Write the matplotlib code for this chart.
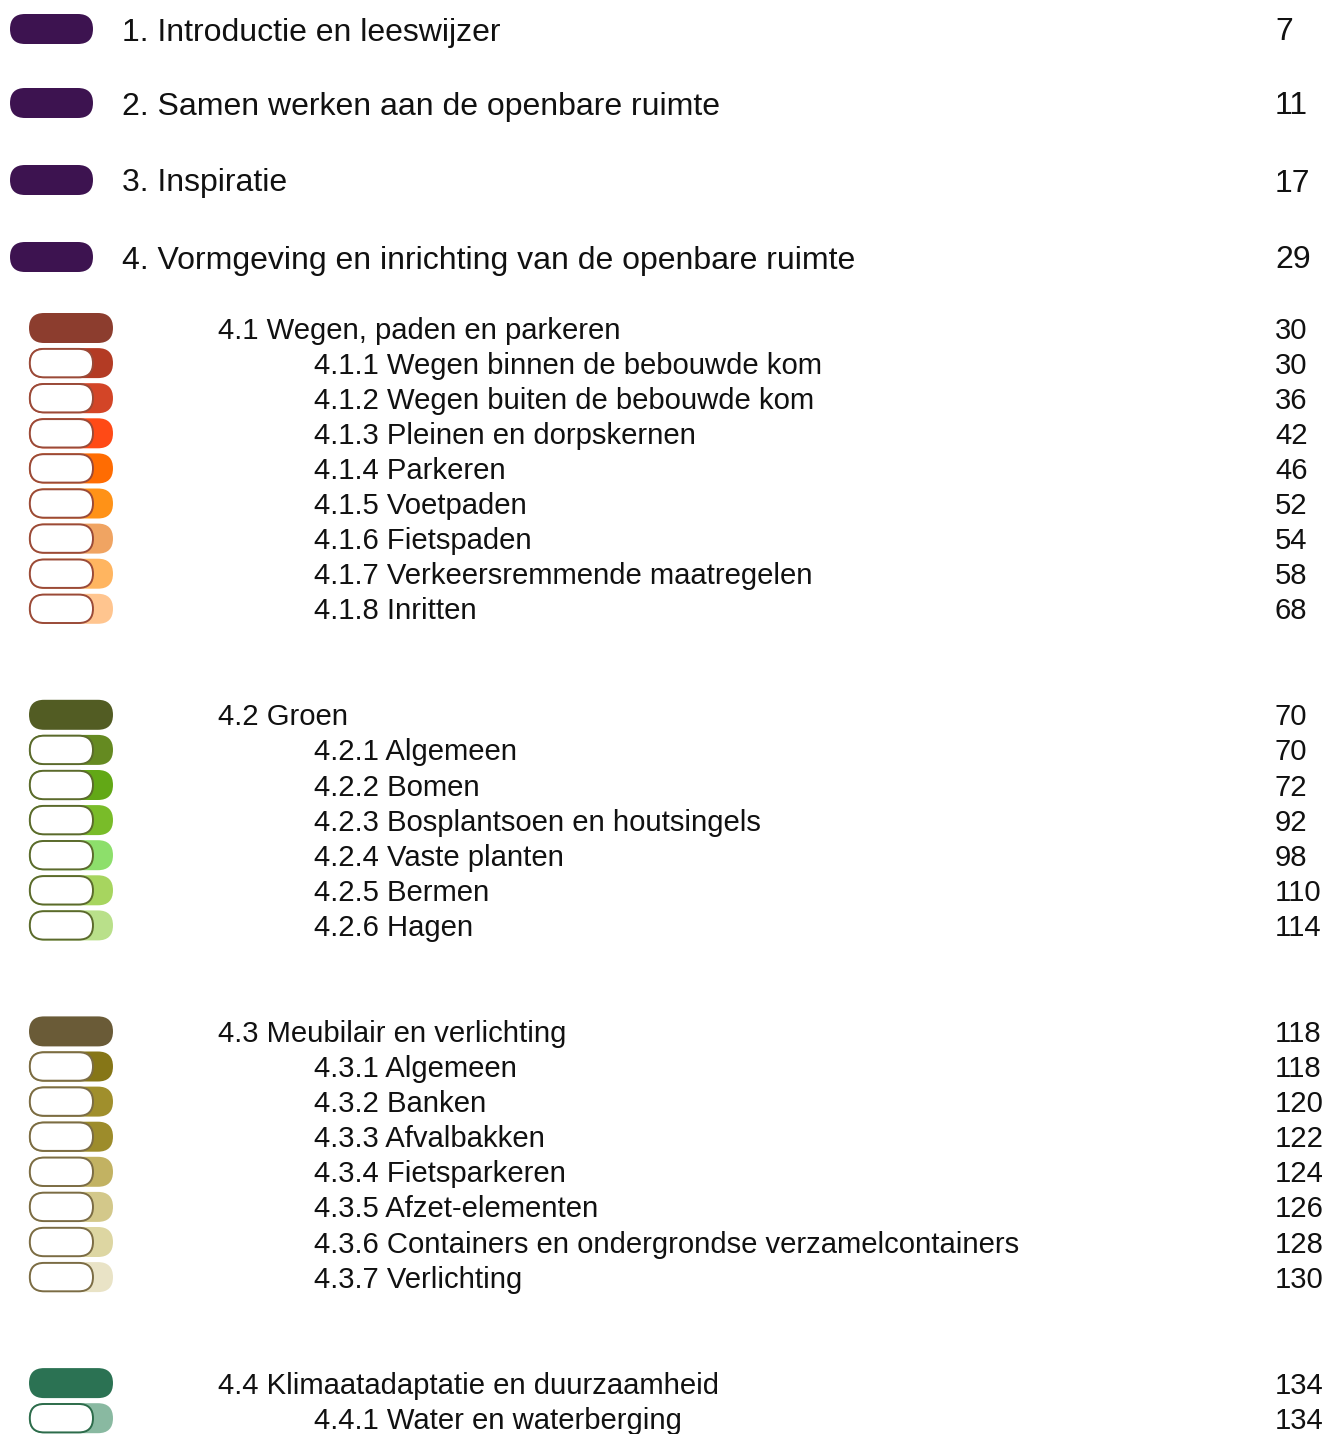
import matplotlib
matplotlib.use("Agg")
import matplotlib.pyplot as plt
from matplotlib.patches import FancyBboxPatch

# table of contents entries
chapters = ["1. Introductie en leeswijzer",
            "2. Samen werken aan de openbare ruimte",
            "3. Inspiratie",
            "4. Vormgeving en inrichting van de openbare ruimte"]
chapter_pages = [7, 11, 17, 29]
chapter_color = "#3d1350"

sections = ["4.1 Wegen, paden en parkeren",
            "4.2 Groen",
            "4.3 Meubilair en verlichting",
            "4.4 Klimaatadaptatie en duurzaamheid"]
section_pages = [30, 70, 118, 134]
section_colors = ["#8c3d2e", "#525c23", "#6a5b37", "#2b7253"]
outline_colors = ["#9a4a38", "#5b6a2c", "#7b6c44", "#2d6c4b"]

subsections = [
    ["4.1.1 Wegen binnen de bebouwde kom", "4.1.2 Wegen buiten de bebouwde kom",
     "4.1.3 Pleinen en dorpskernen", "4.1.4 Parkeren", "4.1.5 Voetpaden",
     "4.1.6 Fietspaden", "4.1.7 Verkeersremmende maatregelen", "4.1.8 Inritten"],
    ["4.2.1 Algemeen", "4.2.2 Bomen", "4.2.3 Bosplantsoen en houtsingels",
     "4.2.4 Vaste planten", "4.2.5 Bermen", "4.2.6 Hagen"],
    ["4.3.1 Algemeen", "4.3.2 Banken", "4.3.3 Afvalbakken", "4.3.4 Fietsparkeren",
     "4.3.5 Afzet-elementen", "4.3.6 Containers en ondergrondse verzamelcontainers",
     "4.3.7 Verlichting"],
    ["4.4.1 Water en waterberging"],
]
subsection_pages = [
    [30, 36, 42, 46, 52, 54, 58, 68],
    [70, 72, 92, 98, 110, 114],
    [118, 120, 122, 124, 126, 128, 130],
    [134],
]
subsection_colors = [
    ["#b33b24", "#d34527", "#ff4a16", "#ff6c02", "#ff9217", "#f0a462", "#ffb560", "#ffc58f"],
    ["#658a21", "#62a816", "#79bc29", "#8ddf6b", "#a7d55f", "#b9e08a"],
    ["#867617", "#a08f2c", "#9d8c2b", "#c2b262", "#d3c88a", "#ddd6a2", "#e9e3c6"],
    ["#89b9a1"],
]

W, H = 1327, 1434
fig = plt.figure(figsize=(W / 100, H / 100), dpi=100)
ax = fig.add_axes([0, 0, 1, 1])
ax.set_xlim(0, W)
ax.set_ylim(H, 0)
ax.axis("off")

font = "Liberation Sans"
txt_col = "#111111"


def pill(x0, x1, y, h, face, edge=None, lw=0):
    # zero-height box padded by the radius gives a rounded pill
    p = FancyBboxPatch((x0 + h / 2, y - 0.01), x1 - x0 - h, 0.02,
                       boxstyle="round,pad=%f,rounding_size=%f" % (h / 2 - 0.01, h / 2),
                       fc=face, ec=edge if edge else "none", lw=lw)
    ax.add_patch(p)


def entry(y, text, page, size, x_text):
    off = 0.36 * size / 0.72
    ax.text(x_text, y + off, text, fontsize=size, family=font, color=txt_col, va="baseline")
    ax.text(1275, y + off, str(page), fontsize=size, family=font, color=txt_col, va="baseline")


chapter_steps = [0, 74, 77, 77]
y = 29
for i, (t, pg) in enumerate(zip(chapters, chapter_pages)):
    y += chapter_steps[i]
    pill(10, 93, y, 30, chapter_color)
    entry(y, t, pg, 23, 122)

for k, (t, pg) in enumerate(zip(sections, section_pages)):
    y += 71 if k == 0 else 106
    pill(29, 113, y, 30, section_colors[k])
    entry(y, t, pg, 21.1, 218)
    for st, sp, sc in zip(subsections[k], subsection_pages[k], subsection_colors[k]):
        y += 35.1
        pill(29, 113, y, 30, sc)
        pill(29.8, 93, y, 28.4, "white", outline_colors[k], 1.4)
        entry(y, st, sp, 21.1, 314)

fig.savefig("out.png", dpi=100, facecolor="white")
